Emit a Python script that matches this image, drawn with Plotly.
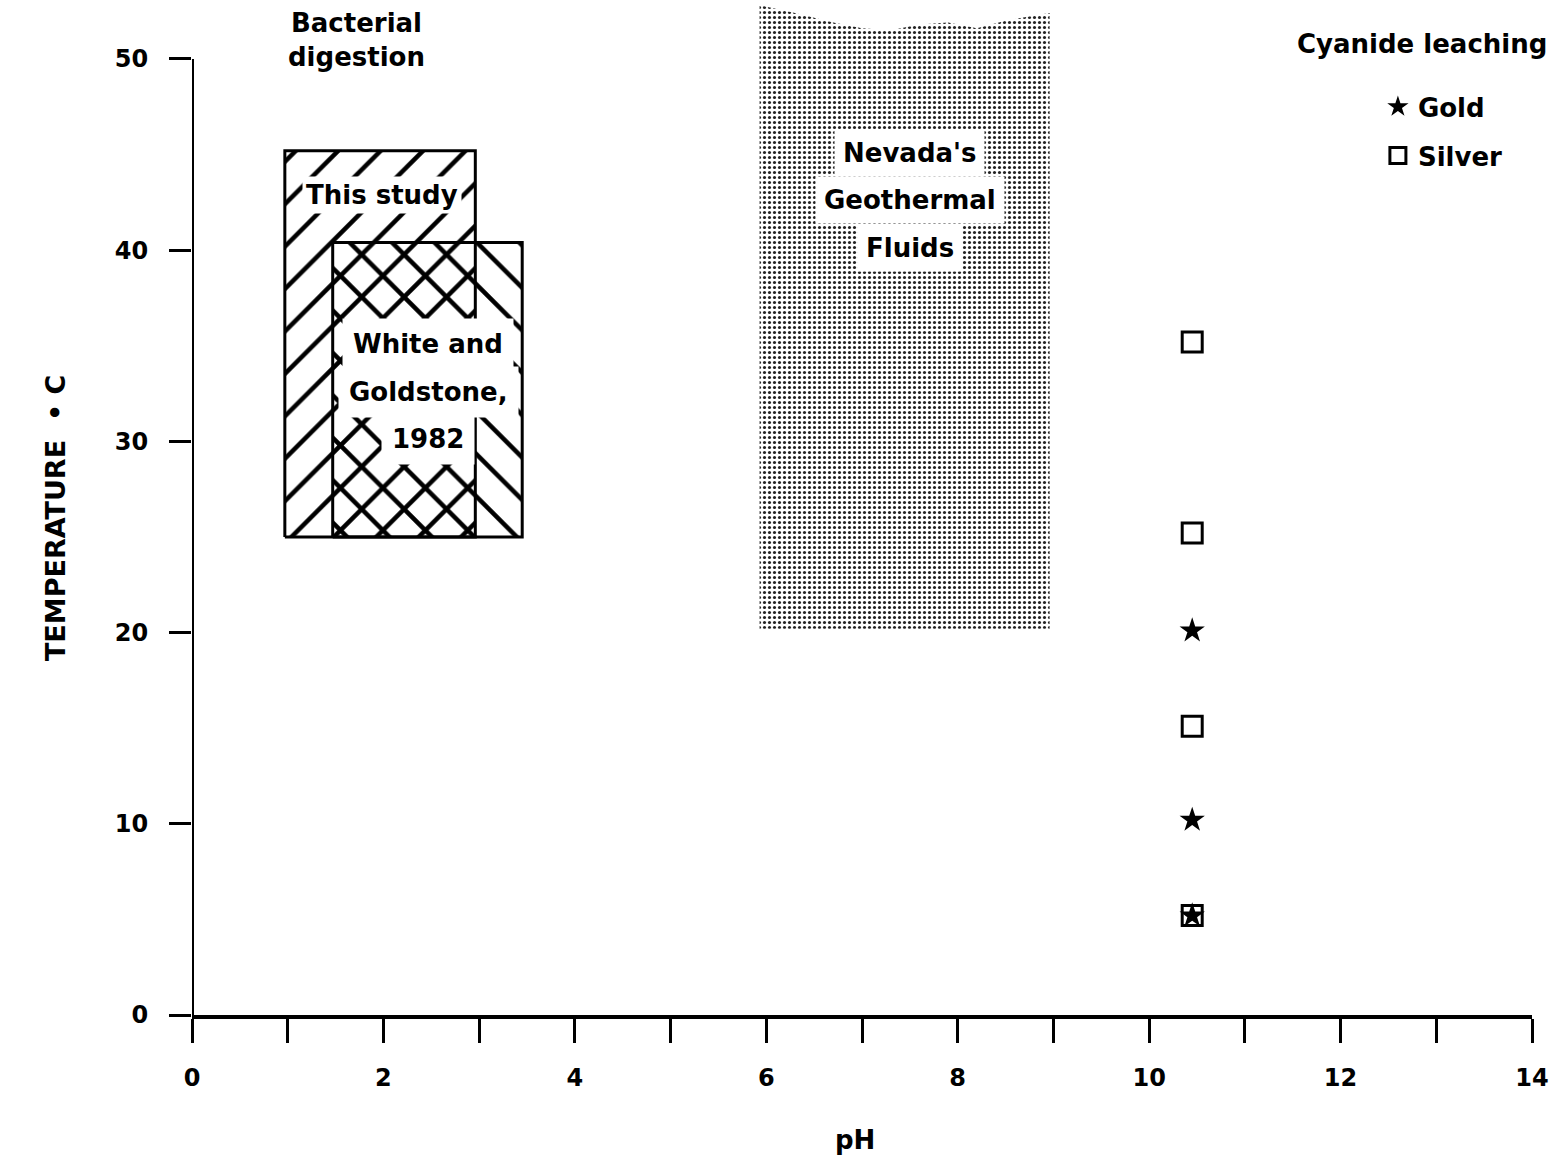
import plotly.graph_objects as go

# ---------------- data ----------------
this_study_ph = [0.97, 2.96]        # pH range
this_study_temp = [25.0, 45.2]      # temperature range (deg C)
white_ph = [1.47, 3.45]
white_temp = [25.0, 40.4]
nevada_ph = [5.93, 8.96]
nevada_temp_low = 20.2
nevada_top_ph = [5.93, 6.3, 6.7, 7.0, 7.3, 7.6, 7.9, 8.2, 8.5, 8.96]
nevada_top_temp = [52.8, 52.4, 51.9, 51.6, 51.5, 51.8, 51.9, 51.6, 52.0, 52.4]
cyanide_ph = 10.45
silver_temp = [35.2, 25.2, 15.1, 5.2]
gold_temp = [20.1, 10.2, 5.2]
x_tick_vals = list(range(0, 15))
x_tick_text = [str(v) if v % 2 == 0 else "" for v in x_tick_vals]
y_tick_vals = [0, 10, 20, 30, 40, 50]

FONT = "DejaVu Sans"
FS = 24
AFS = 26

fig = go.Figure()

# Nevada's geothermal fluids (stippled)
nx = nevada_top_ph + [nevada_ph[1], nevada_ph[0]]
ny = nevada_top_temp + [nevada_temp_low, nevada_temp_low]
fig.add_trace(go.Scatter(
    x=nx, y=ny, mode="lines", fill="toself", line=dict(width=0, color="rgba(0,0,0,0)"),
    fillcolor="rgba(0,0,0,0)",
    fillpattern=dict(shape=".", size=5, solidity=0.3, fgcolor="#222", fgopacity=1, bgcolor="white"),
    showlegend=False, hoverinfo="skip"))

# This study
fig.add_trace(go.Scatter(
    x=[this_study_ph[0], this_study_ph[1], this_study_ph[1], this_study_ph[0], this_study_ph[0]],
    y=[this_study_temp[0], this_study_temp[0], this_study_temp[1], this_study_temp[1], this_study_temp[0]],
    mode="lines", fill="toself", line=dict(width=3, color="black"),
    fillcolor="rgba(0,0,0,0)",
    fillpattern=dict(shape="/", size=30, solidity=0.15, fgcolor="black", fgopacity=1, bgcolor="white"),
    showlegend=False, hoverinfo="skip"))

# White and Goldstone, 1982
fig.add_trace(go.Scatter(
    x=[white_ph[0], white_ph[1], white_ph[1], white_ph[0], white_ph[0]],
    y=[white_temp[0], white_temp[0], white_temp[1], white_temp[1], white_temp[0]],
    mode="lines", fill="toself", line=dict(width=3, color="black"),
    fillcolor="rgba(0,0,0,0)",
    fillpattern=dict(shape="\\", size=30, solidity=0.15, fgcolor="black", fgopacity=1,
                     bgcolor="rgba(0,0,0,0)"),
    showlegend=False, hoverinfo="skip"))

# Cyanide leaching points
fig.add_trace(go.Scatter(
    x=[cyanide_ph] * len(silver_temp), y=silver_temp, mode="markers", name="<b>Silver</b>",
    marker=dict(symbol="square-open", size=20, color="black", line=dict(width=3, color="black")),
    legendgroup="s", legendrank=2))
fig.add_trace(go.Scatter(
    x=[cyanide_ph] * len(gold_temp), y=gold_temp, mode="markers", name="<b>Gold</b>",
    marker=dict(symbol="star", size=19, color="black", line=dict(width=0)),
    legendgroup="g", legendrank=1))

# y axis line (0 to 50 only)
fig.add_shape(type="line", x0=0, x1=0, y0=0, y1=50, xref="x", yref="y",
              line=dict(color="black", width=4))

ann_font = dict(family=FONT, size=AFS, color="black")


def box(x, y, text, pad):
    return dict(x=x, y=y, text="<b>" + text + "</b>", showarrow=False, font=ann_font,
                bgcolor="white", borderpad=pad)


annotations = [
    dict(x=1.72, y=51.0, text="<b>Bacterial<br>digestion</b>", showarrow=False, font=ann_font),
    dict(x=12.85, y=50.8, text="<b>Cyanide leaching</b>", showarrow=False, font=ann_font),
    box(1.98, 42.9, "This study", 3),
    box(2.47, 35.1, "White and", 10),
    box(2.47, 32.6, "Goldstone,", 10),
    box(2.47, 30.1, "1982", 10),
    box(7.5, 45.1, "Nevada's", 8),
    box(7.5, 42.6, "Geothermal", 8),
    box(7.5, 40.1, "Fluids", 8),
    dict(x=-0.115, y=0.49, xref="paper", yref="paper", text="<b>TEMPERATURE  • C</b>",
         textangle=-90, showarrow=False, font=dict(family=FONT, size=27, color="black")),
    dict(x=0.495, y=-0.14, xref="paper", yref="paper", text="<b>pH</b>", showarrow=False, font=ann_font),
]

fig.update_layout(
    width=1563, height=1162,
    margin=dict(l=192, r=31, t=0, b=147),
    paper_bgcolor="white", plot_bgcolor="white",
    font=dict(family=FONT, size=FS, color="black"),
    annotations=annotations,
    showlegend=True,
    legend=dict(x=0.885, y=0.918, xanchor="left", yanchor="top", bgcolor="rgba(0,0,0,0)",
                font=dict(family=FONT, size=AFS, color="black"), tracegroupgap=12,
                traceorder="grouped"),
    xaxis=dict(range=[0, 14], showline=True, linewidth=4, linecolor="black", ticks="outside",
               tickvals=x_tick_vals, ticktext=x_tick_text, ticklen=24, tickwidth=3, tickcolor="black",
               showgrid=False, zeroline=False, ticklabelstandoff=14,
               tickfont=dict(family=FONT, size=FS, color="black", weight="bold")),
    yaxis=dict(range=[0, 53.08], showline=False, ticks="outside", tickvals=y_tick_vals,
               ticklen=22, tickwidth=3, tickcolor="black", showgrid=False, zeroline=False,
               ticklabelstandoff=16,
               tickfont=dict(family=FONT, size=FS, color="black", weight="bold")),
)

fig.write_html("out.html", post_script="document.body.style.margin='0';",
               config={"displayModeBar": False})
